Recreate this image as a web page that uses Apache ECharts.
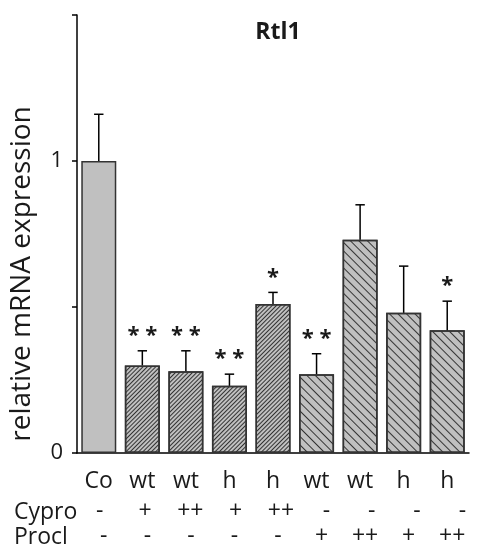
<!DOCTYPE html>
<html>
<head>
<meta charset="utf-8">
<script src="https://cdn.jsdelivr.net/npm/echarts@6/dist/echarts.min.js"></script>
<style>
  html, body { margin: 0; padding: 0; background: #ffffff; }
  #chart { width: 485px; height: 556px; }
</style>
</head>
<body>
<div id="chart"></div>
<script>
// Rtl1 relative mRNA expression per treatment group
const groups    = ['Co', 'wt', 'wt', 'h', 'h', 'wt', 'wt', 'h', 'h'];
const cyproRow  = ['-', '+', '++', '+', '++', '-', '-', '-', '-'];
const proclRow  = ['-', '-', '-', '-', '-', '+', '++', '+', '++'];
const means     = [1.00, 0.30, 0.28, 0.23, 0.51, 0.27, 0.73, 0.48, 0.42];
const errors    = [0.16, 0.05, 0.07, 0.04, 0.04, 0.07, 0.12, 0.16, 0.10];
const stars     = ['', '* *', '* *', '* *', '*', '* *', '', '', '*'];
const treatment = ['control', 'cypro', 'cypro', 'cypro', 'cypro', 'procl', 'procl', 'procl', 'procl'];
const yTicks    = [0, 1];

const FONT = 'Open Sans';
const INK = '#1a1a1a';
const BAR_FILL = '#c0c0c0';
const BAR_EDGE = '#333333';

const hatch = {
  control: null,
  cypro: { symbol: 'rect', symbolSize: 1, color: '#333333', dashArrayX: [1, 0], dashArrayY: [1, 2], rotation: -Math.PI / 4 },
  procl: { symbol: 'rect', symbolSize: 1, color: '#333333', dashArrayX: [1, 0], dashArrayY: [1, 5], rotation: Math.PI / 4 }
};

const barData = means.map((v, i) => {
  const style = { color: BAR_FILL, borderColor: BAR_EDGE, borderWidth: 1.5 };
  if (hatch[treatment[i]]) style.decal = hatch[treatment[i]];
  return { value: v, itemStyle: style };
});

const errData = means.map((v, i) => [i, v, errors[i]]);

const chart = echarts.init(document.getElementById('chart'), null, { renderer: 'canvas' });

const rowLabel = (margin) => ({
  fontFamily: FONT, fontSize: 23, color: INK, margin: margin, interval: 0
});

chart.setOption({
  animation: false,
  backgroundColor: '#ffffff',
  grid: [
    { left: 77, top: 15, width: 392, height: 438 },
    { left: 77, top: 15, width: 427, height: 438 },
    { left: 82, top: 15, width: 392, height: 438 }
  ],
  xAxis: [
    {
      type: 'category', gridIndex: 0, data: groups,
      axisLine: { lineStyle: { color: '#000', width: 1.5 } },
      axisTick: { alignWithLabel: true, length: 8, lineStyle: { color: '#000', width: 1.5 } },
      axisLabel: rowLabel(17)
    },
    {
      type: 'category', gridIndex: 1, data: cyproRow,
      axisLine: { show: false }, axisTick: { show: false },
      axisLabel: rowLabel(47)
    },
    {
      type: 'category', gridIndex: 2, data: proclRow,
      axisLine: { show: false }, axisTick: { show: false },
      axisLabel: rowLabel(72)
    }
  ],
  yAxis: [
    {
      type: 'value', gridIndex: 0, min: 0, max: 1.5, interval: 0.5,
      axisLine: { show: true, lineStyle: { color: '#000', width: 1.5 } },
      axisTick: { show: true, length: 5, lineStyle: { color: '#000', width: 1.5 } },
      splitLine: { show: false },
      axisLabel: {
        fontFamily: FONT, fontSize: 22, color: INK, margin: 14,
        formatter: (v) => (yTicks.indexOf(v) >= 0 ? String(v) : '')
      }
    },
    { type: 'value', gridIndex: 1, show: false },
    { type: 'value', gridIndex: 2, show: false }
  ],
  graphic: [
    {
      type: 'text', x: 278, y: 32,
      style: { text: 'Rtl1', align: 'center', verticalAlign: 'middle',
               font: 'bold 23px "Open Sans"', fill: INK }
    },
    {
      type: 'text', x: 22, y: 274, rotation: Math.PI / 2,
      style: { text: 'relative mRNA expression', align: 'center', verticalAlign: 'middle',
               font: '28px "Open Sans"', fill: INK }
    },
    {
      type: 'text', x: 14, y: 512,
      style: { text: 'Cypro', align: 'left', verticalAlign: 'middle', font: '23px "Open Sans"', fill: INK }
    },
    {
      type: 'text', x: 14, y: 537,
      style: { text: 'Procl', align: 'left', verticalAlign: 'middle', font: '23px "Open Sans"', fill: INK }
    }
  ],
  series: [
    {
      type: 'bar', xAxisIndex: 0, yAxisIndex: 0,
      barWidth: 35, data: barData, z: 2
    },
    {
      type: 'custom', xAxisIndex: 0, yAxisIndex: 0, z: 3,
      data: errData,
      renderItem: (params, api) => {
        const i = api.value(0), m = api.value(1), e = api.value(2);
        const base = api.coord([i, m]);
        const top = api.coord([i, m + e]);
        const cap = 4.7;
        const lineStyle = { stroke: '#000', lineWidth: 1.5 };
        const children = [
          { type: 'line', shape: { x1: base[0], y1: base[1], x2: top[0], y2: top[1] }, style: lineStyle },
          { type: 'line', shape: { x1: top[0] - cap, y1: top[1], x2: top[0] + cap, y2: top[1] }, style: lineStyle }
        ];
        const s = stars[params.dataIndex];
        if (s) {
          children.push({
            type: 'text', x: top[0], y: top[1] - 15,
            style: { text: s, align: 'center', verticalAlign: 'middle',
                     font: 'bold 22px "Open Sans"', fill: INK }
          });
        }
        return { type: 'group', children };
      }
    }
  ]
});
</script>
</body>
</html>
